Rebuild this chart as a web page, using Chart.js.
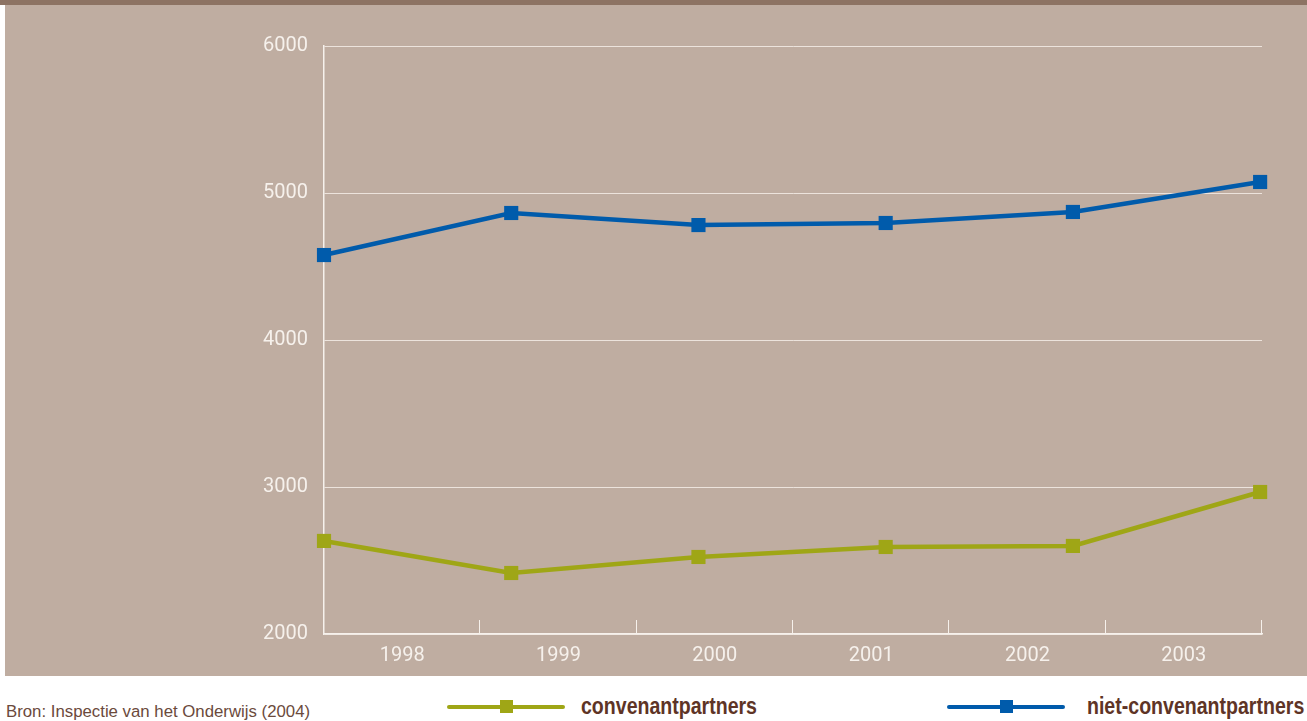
<!DOCTYPE html>
<html>
<head>
<meta charset="utf-8">
<script src="https://cdn.jsdelivr.net/npm/chart.js@4"></script>
<style>
  html, body { margin: 0; padding: 0; background: #fff; }
  body { width: 1307px; height: 721px; position: relative; overflow: hidden; }
  #band { position: absolute; left: 0; top: 0; width: 1307px; height: 5px; background: #8d7363; }
  #paneel { position: absolute; left: 5px; top: 5px; width: 1302px; height: 671px; background: #bfada1; }
  #wrap { position: absolute; left: 0; top: 0; width: 1307px; height: 676px; }
  .bron { position: absolute; left: 6px; top: 702px; font: 16.8px "Liberation Sans", Arial, sans-serif; color: #6b4a3c; }
  .leg { position: absolute; top: 696px; height: 22px; }
  .leg .lijn { position: absolute; top: 9px; left: 0; width: 118px; height: 4px; border-radius: 2px; }
  .leg .blok { position: absolute; top: 4px; left: 53px; width: 13px; height: 13px; }
  .leg .tekst { position: absolute; top: -3px; white-space: nowrap; font: bold 23px "Liberation Sans", Arial, sans-serif; color: #5e3426; transform: scaleX(0.85); transform-origin: left center; }
</style>
</head>
<body>
<div id="band"></div>
<div id="paneel"></div>
<div id="wrap"><canvas id="grafiek"></canvas></div>

<div class="bron">Bron: Inspectie van het Onderwijs (2004)</div>
<div class="leg" style="left:447px">
  <div class="lijn" style="background:#9fa616"></div>
  <div class="blok" style="background:#9fa616"></div>
  <div class="tekst" style="left:134px">convenantpartners</div>
</div>
<div class="leg" style="left:947px">
  <div class="lijn" style="background:#005bab"></div>
  <div class="blok" style="background:#005bab"></div>
  <div class="tekst" style="left:140px">niet-convenantpartners</div>
</div>

<script>
// jaren op de x-as
const jaren = ['1998', '1999', '2000', '2001', '2002', '2003'];
// waarden
const convenant = [2633, 2415, 2524, 2592, 2599, 2966];
const nietConvenant = [4578, 4864, 4782, 4796, 4871, 5075];
// y-as
const yMin = 2000;
const yMax = 6000;
const yStap = 1000;

const wit = '#f6f1ec';
const lettertype = 'Roboto, "Liberation Sans", sans-serif';

// punten op positie 0..5 (lineaire as), labels in het midden van de vakken (categorie-as)
function punten(waarden) {
  return waarden.map((v, i) => ({ x: i, y: v }));
}

// korte streepjes op de x-as tussen de jaren
const streepjes = {
  id: 'streepjes',
  afterDraw(chart) {
    const s = chart.scales.jaar;
    const ctx = chart.ctx;
    const bodem = chart.chartArea.bottom;
    ctx.save();
    ctx.strokeStyle = wit;
    ctx.lineWidth = 1;
    for (let i = 1; i <= jaren.length; i++) {
      const x = Math.round(s.left + i * s.width / jaren.length) - 0.5;
      ctx.beginPath();
      ctx.moveTo(x, bodem);
      ctx.lineTo(x, bodem - 14);
      ctx.stroke();
    }
    ctx.restore();
  }
};

const grafiek = document.getElementById('grafiek');

new Chart(grafiek, {
  type: 'line',
  data: {
    datasets: [
      {
        label: 'convenantpartners',
        data: punten(convenant),
        borderColor: '#9fa616',
        backgroundColor: '#9fa616',
        borderWidth: 4.5,
        pointStyle: 'rect',
        pointRadius: 10,
        pointBorderWidth: 0,
        tension: 0,
        clip: false,
        xAxisID: 'x'
      },
      {
        label: 'niet-convenantpartners',
        data: punten(nietConvenant),
        borderColor: '#005bab',
        backgroundColor: '#005bab',
        borderWidth: 4.5,
        pointStyle: 'rect',
        pointRadius: 10,
        pointBorderWidth: 0,
        tension: 0,
        clip: false,
        xAxisID: 'x'
      }
    ]
  },
  options: {
    responsive: true,
    maintainAspectRatio: false,
    animation: false,
    layout: { padding: { top: 46, right: 45, left: 0, bottom: 0 } },
    plugins: {
      legend: { display: false },
      tooltip: { enabled: false }
    },
    scales: {
      x: {
        type: 'linear',
        display: false,
        min: 0,
        max: 5.01
      },
      jaar: {
        type: 'category',
        position: 'bottom',
        labels: jaren,
        offset: true,
        grid: { display: false, drawTicks: false },
        border: { display: true, color: wit, width: 1.5 },
        ticks: { color: wit, padding: 10, font: { family: lettertype, size: 20 } },
        afterFit(scale) { scale.height = 42; }
      },
      y: {
        min: yMin,
        max: yMax,
        ticks: {
          stepSize: yStap,
          color: wit,
          padding: 16,
          font: { family: lettertype, size: 20 },
          callback: (v) => String(v)
        },
        grid: { color: '#ece3dc', lineWidth: 1, drawTicks: false },
        border: { display: true, color: wit, width: 1.5 },
        afterFit(scale) { scale.width = 324; }
      }
    }
  },
  plugins: [streepjes]
});
</script>
</body>
</html>
